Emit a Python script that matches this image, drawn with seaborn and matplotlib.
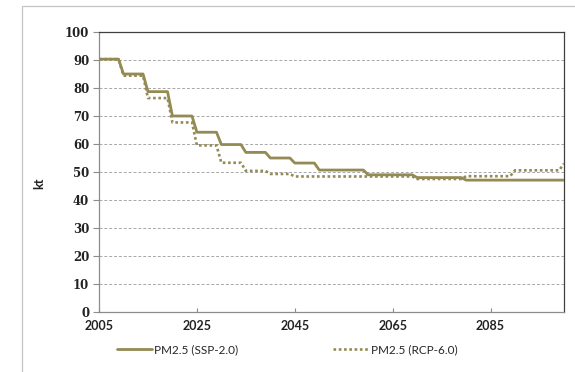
import numpy as np
import pandas as pd
import matplotlib
matplotlib.use("Agg")
import matplotlib.pyplot as plt
import seaborn as sns
from matplotlib.patches import Rectangle

# ---- data ----
years = list(range(2005, 2101))

ssp_period_start = [2005, 2010, 2015, 2020, 2025, 2030, 2035, 2040, 2045, 2050, 2060, 2070, 2080]
ssp_values       = [90.3, 85.0, 78.7, 70.0, 64.2, 59.8, 57.0, 55.0, 53.2, 50.7, 49.0, 48.0, 47.1]

rcp_period_start = [2005, 2010, 2015, 2020, 2025, 2030, 2035, 2040, 2045, 2070, 2080, 2090, 2100]
rcp_values       = [90.3, 84.4, 76.4, 67.7, 59.5, 53.3, 50.4, 49.3, 48.4, 47.5, 48.5, 50.6, 53.0]

series_names = ["PM2.5 (SSP-2.0)", "PM2.5 (RCP-6.0)"]
x_ticks = [2005, 2025, 2045, 2065, 2085]
y_ticks = [0, 10, 20, 30, 40, 50, 60, 70, 80, 90, 100]
y_label = "kt"


def expand(starts, vals):
    out = []
    for y in years:
        idx = max(i for i, s in enumerate(starts) if s <= y)
        out.append(vals[idx])
    return out


df = pd.concat([
    pd.DataFrame({"year": years, "value": expand(ssp_period_start, ssp_values), "series": series_names[0]}),
    pd.DataFrame({"year": years, "value": expand(rcp_period_start, rcp_values), "series": series_names[1]}),
])

sns.set_style("white")
plt.rcParams["font.family"] = ["DejaVu Sans"]

color = "#948A54"
fig = plt.figure(figsize=(5.75, 3.72), dpi=100)
ax = fig.add_axes([99 / 575, 1 - 312 / 372, (564 - 99) / 575, (312 - 32) / 372])

# outer chart frame (extends past right and bottom edges)
top = 1 - 6 / 372
fig.patches.append(Rectangle((22 / 575, -0.2), 1.2, top + 0.2,
                             transform=fig.transFigure, fill=False, edgecolor="#c4c4c4", lw=0.9, zorder=0))

# draw series (RCP first so solid sits on top)
sns.lineplot(data=df[df.series == series_names[1]], x="year", y="value", ax=ax,
             color=color, lw=1.9, linestyle=(0, (1, 1)), label=series_names[1], zorder=3)
sns.lineplot(data=df[df.series == series_names[0]], x="year", y="value", ax=ax,
             color=color, lw=2.0, label=series_names[0], zorder=4)

ax.set_xlim(2005, 2100)
ax.set_ylim(0, 100)
ax.set_xticks(x_ticks)
ax.set_yticks(y_ticks)

for y in y_ticks[1:-1]:
    ax.axhline(y, color="#a8a8a8", lw=0.7, linestyle=(0, (3, 2)), zorder=1)

for side in ["left", "bottom"]:
    ax.spines[side].set_color("#8c8c8c")
    ax.spines[side].set_linewidth(0.9)
for side in ["top", "right"]:
    ax.spines[side].set_color("#404040")
    ax.spines[side].set_linewidth(0.9)
    ax.spines[side].set_visible(True)

ax.tick_params(axis="y", direction="out", length=4, color="#8c8c8c", width=0.8, pad=3)
ax.tick_params(axis="x", direction="in", length=3, color="#8c8c8c", width=0.8, pad=6)
ax.tick_params(left=True, bottom=True)

for lab in ax.get_yticklabels():
    lab.set_fontfamily("DejaVu Serif")
    lab.set_fontweight("bold")
    lab.set_fontsize(8.5)
    lab.set_color("#222222")
for lab in ax.get_xticklabels():
    lab.set_fontfamily("Lato")
    lab.set_fontweight("bold")
    lab.set_fontsize(9)
    lab.set_color("#222222")

ax.set_xlabel("")
ax.set_ylabel(y_label, fontsize=9, fontweight="bold", family="Lato", color="#222222")
ax.yaxis.set_label_coords(-0.115, 0.46)

handles, labels = ax.get_legend_handles_labels()
order = [labels.index(n) for n in series_names]
ax.get_legend().remove()
fig.legend([handles[i] for i in order], [labels[i] for i in order],
           loc="center", bbox_to_anchor=(287 / 575, 1 - 350 / 372), ncol=2,
           frameon=False, handlelength=3.0, handletextpad=0.2, columnspacing=8.0,
           prop={"family": "Lato", "size": 8.5})

fig.savefig("out.png", dpi=100, facecolor="white")
